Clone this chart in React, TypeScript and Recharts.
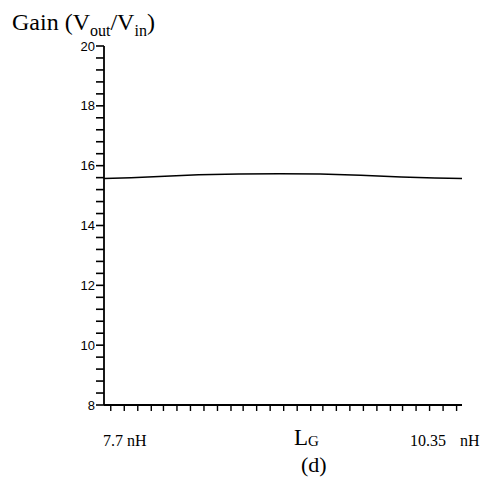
import React from 'react';
import { LineChart, Line, XAxis, YAxis } from 'recharts';

// L_G sweep (nH) and gain
const lgValues = [7.7, 7.9, 8.15, 8.4, 8.7, 9.0, 9.3, 9.6, 9.9, 10.15, 10.35];
const gainValues = [15.57, 15.6, 15.65, 15.7, 15.72, 15.73, 15.72, 15.68, 15.62, 15.59, 15.57];

const yMajorTicks = [8, 10, 12, 14, 16, 18, 20];
const yMinorStep = 0.4;
const xTickValues = [
  7.75, 7.85, 7.95, 8.05, 8.14, 8.24, 8.34, 8.44, 8.54, 8.64, 8.73, 8.83, 8.93, 9.03,
  9.13, 9.23, 9.32, 9.42, 9.52, 9.62, 9.72, 9.82, 9.91, 10.01, 10.11, 10.21, 10.31,
];

const data = lgValues.map((lg, i) => ({ lg, gain: gainValues[i] }));

// minor ticks between the labelled ones
const yTicks: number[] = [];
yMajorTicks.forEach((m, i) => {
  yTicks.push(m);
  if (i < yMajorTicks.length - 1) {
    for (let k = 1; k < 5; k++) yTicks.push(+(m + k * yMinorStep).toFixed(2));
  }
});

const serif = '"Liberation Serif", "Times New Roman", serif';
const sans = '"Liberation Sans", Arial, sans-serif';

const YTick = ({ x, y, payload }: any) => {
  const v = payload.value;
  const isMajor = yMajorTicks.includes(v);
  return (
    <g>
      <line x1={x - 8} y1={y} x2={x} y2={y} stroke="#000" strokeWidth={1.6} />
      {isMajor && (
        <text x={x - 9} y={y + 4.5} textAnchor="end" fontFamily={sans} fontSize={13} fill="#000">
          {v}
        </text>
      )}
    </g>
  );
};

const XTick = ({ x, y }: any) => (
  <line x1={x} y1={y} x2={x} y2={y + 6} stroke="#000" strokeWidth={1.4} />
);

const txt = (left: number, top: number, size: number): React.CSSProperties => ({
  position: 'absolute',
  left,
  top,
  fontFamily: serif,
  fontSize: size,
  lineHeight: 1,
  color: '#000',
  whiteSpace: 'nowrap',
});

export default function App() {
  return (
    <div style={{ position: 'absolute', left: 0, top: 0, width: 494, height: 489, background: '#fff' }}>
      <LineChart
        width={494}
        height={489}
        data={data}
        margin={{ top: 46, right: 32, bottom: 54, left: 64 }}
      >
        <XAxis
          dataKey="lg"
          type="number"
          domain={[7.7, 10.35]}
          ticks={xTickValues}
          interval={0}
          height={30}
          tickLine={false}
          tickSize={0}
          tickMargin={0}
          tick={<XTick />}
          axisLine={{ stroke: '#000', strokeWidth: 1.8 }}
        />
        <XAxis
          xAxisId="top"
          orientation="top"
          dataKey="lg"
          type="number"
          domain={[7.7, 10.35]}
          height={0}
          tick={false}
          tickLine={false}
          axisLine={{ stroke: '#000', strokeWidth: 1.8 }}
        />
        <YAxis
          type="number"
          domain={[8, 20]}
          ticks={yTicks}
          interval={0}
          width={40}
          tickLine={false}
          tickSize={0}
          tickMargin={0}
          tick={<YTick />}
          axisLine={{ stroke: '#000', strokeWidth: 1.8 }}
        />
        <YAxis
          yAxisId="right"
          orientation="right"
          type="number"
          domain={[8, 20]}
          width={0}
          tick={false}
          tickLine={false}
          axisLine={{ stroke: '#000', strokeWidth: 1.8 }}
        />
        <Line
          type="linear"
          dataKey="gain"
          stroke="#000"
          strokeWidth={1.5}
          dot={false}
          isAnimationActive={false}
        />
      </LineChart>

      <div style={txt(12, 10, 24)}>
        Gain (V<sub style={{ fontSize: 16, lineHeight: 0 }}>out</sub>/V<sub style={{ fontSize: 16, lineHeight: 0 }}>in</sub>)
      </div>
      <div style={txt(103, 433, 16)}>7.7 nH</div>
      <div style={txt(410, 433, 16)}>
        10.35<span style={{ marginLeft: 14 }}>nH</span>
      </div>
      <div style={txt(294, 426, 23)}>
        L<sub style={{ fontSize: 15, lineHeight: 0, verticalAlign: -1 }}>G</sub>
      </div>
      <div style={txt(301, 454, 22)}>(d)</div>
    </div>
  );
}
